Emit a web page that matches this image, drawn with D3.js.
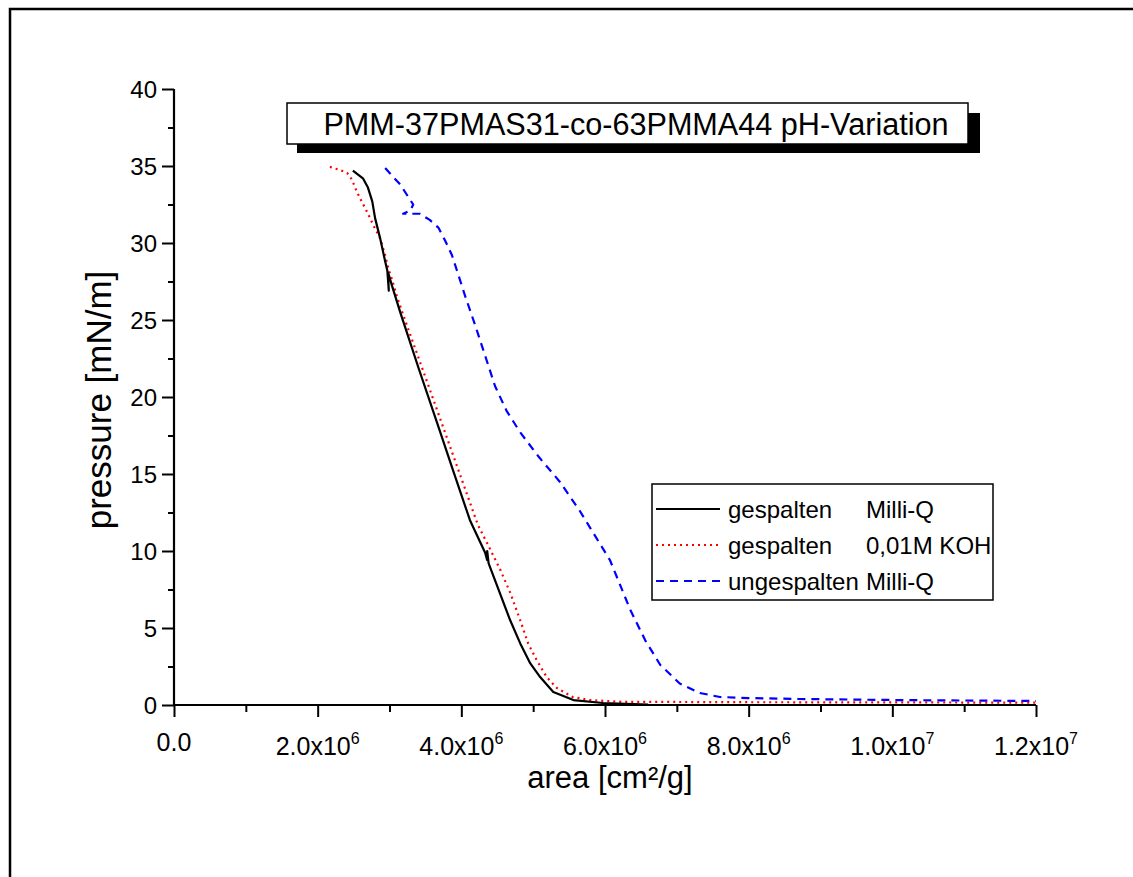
<!DOCTYPE html>
<html>
<head>
<meta charset="utf-8">
<script src="https://cdn.jsdelivr.net/npm/d3@7"></script>
<style>
  html, body { margin: 0; padding: 0; background: #fff; }
  svg { display: block; font-family: "Liberation Sans", Arial, sans-serif; }
</style>
</head>
<body>
<svg id="chart" width="1133" height="877"></svg>
<script>
// Isotherm: surface pressure vs. area per gram

// gespalten, Milli-Q (solid black)
const blackArea = [2.49e6, 2.63e6, 2.70e6, 2.76e6, 2.80e6, 2.87e6, 2.94e6, 2.97e6, 2.99e6, 2.98e6,
  3.03e6, 3.15e6, 3.41e6, 3.65e6, 3.88e6, 4.12e6, 4.33e6, 4.36e6, 4.36e6, 4.38e6,
  4.68e6, 4.82e6, 4.96e6, 5.10e6, 5.28e6, 5.56e6, 5.97e6, 6.6e6];
const blackPressure = [34.7, 34.2, 33.6, 32.7, 31.6, 30.3, 28.8, 28.2, 26.9, 28.1,
  27.3, 25.5, 21.8, 18.5, 15.3, 12.0, 9.9, 9.4, 10.0, 9.2,
  5.5, 4.0, 2.7, 1.8, 0.84, 0.32, 0.13, 0.03];

// gespalten, 0,01M KOH (red dotted)
const redArea = [2.17e6, 2.31e6, 2.41e6, 2.48e6, 2.52e6, 2.59e6, 2.69e6, 2.77e6, 2.87e6, 2.94e6,
  2.98e6, 3.03e6, 3.10e6, 3.17e6, 3.56e6, 3.91e6, 4.23e6, 4.36e6, 4.54e6, 4.68e6,
  4.82e6, 4.93e6, 5.05e6, 5.19e6, 5.33e6, 5.55e6, 5.79e6, 6.25e6, 6.77e6, 8.0e6,
  1.0e7, 1.2e7];
const redPressure = [34.94, 34.74, 34.55, 34.1, 33.6, 32.9, 32.0, 31.2, 30.3, 29.2,
  28.4, 27.7, 26.6, 25.6, 20.5, 15.9, 11.7, 10.5, 8.8, 7.3,
  5.5, 4.0, 2.9, 1.8, 1.1, 0.52, 0.32, 0.2, 0.2, 0.18,
  0.17, 0.15];

// ungespalten, Milli-Q (blue dashed)
const blueArea = [2.94e6, 3.03e6, 3.15e6, 3.26e6, 3.33e6, 3.29e6, 3.19e6, 3.34e6, 3.42e6, 3.56e6,
  3.68e6, 3.77e6, 3.87e6, 3.94e6, 4.05e6, 4.19e6, 4.33e6, 4.47e6, 4.63e6, 4.82e6,
  5.08e6, 5.37e6, 5.65e6, 5.86e6, 6.07e6, 6.21e6, 6.35e6, 6.56e6, 6.77e6, 7.04e6,
  7.32e6, 7.6e6, 8.0e6, 8.7e6, 1.01e7, 1.2e7];
const bluePressure = [34.87, 34.4, 33.8, 33.0, 32.5, 32.1, 31.9, 31.9, 31.9, 31.5,
  31.0, 30.2, 29.2, 28.2, 26.6, 24.7, 22.7, 20.7, 19.1, 17.7,
  16.1, 14.5, 12.6, 11.0, 9.4, 7.8, 6.2, 4.2, 2.6, 1.4,
  0.78, 0.52, 0.45, 0.39, 0.32, 0.26];

// Axis ticks and labels
const xMajorTicks = [0, 2e6, 4e6, 6e6, 8e6, 1e7, 1.2e7];
const xMinorTicks = [1e6, 3e6, 5e6, 7e6, 9e6, 1.1e7];
const xTickMantissa = ["0.0", "2.0x10", "4.0x10", "6.0x10", "8.0x10", "1.0x10", "1.2x10"];
const xTickExponent = ["", "6", "6", "6", "6", "7", "7"];
const yMajorTicks = [0, 5, 10, 15, 20, 25, 30, 35, 40];
const yMinorTicks = [2.5, 7.5, 12.5, 17.5, 22.5, 27.5, 32.5, 37.5];

const seriesLabels = ["gespalten", "gespalten", "ungespalten"];
const seriesMedium = ["Milli-Q", "0,01M KOH", "Milli-Q"];
const seriesColors = ["#000000", "#ff0000", "#0000ff"];
const seriesDash = [null, "2,4", "8,6"];

const chartTitle = "PMM-37PMAS31-co-63PMMA44 pH-Variation";
const xTitle = "area [cm²/g]";
const yTitle = "pressure [mN/m]";

const svg = d3.select("#chart");

const x = d3.scaleLinear().domain([0, 1.2e7]).range([174, 1036]);
const y = d3.scaleLinear().domain([0, 40]).range([705, 89]);

// Outer frame (left and top edges)
svg.append("path")
  .attr("d", "M10,877 L10,9 L1133,9")
  .attr("fill", "none").attr("stroke", "#000").attr("stroke-width", 2.5);

// Axes
const xAxisG = svg.append("g").attr("transform", `translate(0,${y(0)})`);
xAxisG.call(d3.axisBottom(x).tickValues(xMajorTicks).tickSize(12).tickFormat(""));
xAxisG.append("g").call(d3.axisBottom(x).tickValues(xMinorTicks).tickSize(7).tickFormat(""));
xAxisG.selectAll(".tick line").attr("stroke-width", 2);

const yAxisG = svg.append("g").attr("transform", `translate(${x(0)},0)`);
yAxisG.call(d3.axisLeft(y).tickValues(yMajorTicks).tickSize(12).tickFormat(""));
yAxisG.append("g").call(d3.axisLeft(y).tickValues(yMinorTicks).tickSize(6).tickFormat(""));
yAxisG.selectAll(".tick line").attr("stroke-width", 2);

// Plain axis lines without end caps
svg.selectAll(".domain").remove();
svg.append("path")
  .attr("d", `M${x(0)},${y(40)}V${y(0)}H${x(1.2e7)}`)
  .attr("fill", "none").attr("stroke", "#000").attr("stroke-width", 2.2);

// Y tick labels
svg.append("g").selectAll("text").data(yMajorTicks).join("text")
  .attr("x", 157).attr("y", d => y(d)).attr("dy", "0.36em")
  .attr("text-anchor", "end").attr("font-size", 24).text(d => d);

// X tick labels with superscript exponent
const xl = svg.append("g").selectAll("text").data(xMajorTicks).join("text")
  .attr("x", d => x(d)).attr("y", (d, i) => xTickExponent[i] ? 755 : 751)
  .attr("text-anchor", "middle").attr("font-size", 25);
xl.append("tspan").text((d, i) => xTickMantissa[i]);
xl.append("tspan").attr("font-size", 16).attr("dy", -11).text((d, i) => xTickExponent[i]);

// Axis titles
svg.append("text").attr("x", 610).attr("y", 788).attr("text-anchor", "middle")
  .attr("font-size", 31).text(xTitle);
svg.append("text").attr("transform", "translate(111,400) rotate(-90)")
  .attr("text-anchor", "middle").attr("font-size", 35).text(yTitle);

// Curves
const line = d3.line().x(d => x(d[0])).y(d => y(d[1]));
const series = [
  d3.zip(blackArea, blackPressure),
  d3.zip(redArea, redPressure),
  d3.zip(blueArea, bluePressure)
];
// Drawing order: blue, red, black on top
[2, 1, 0].forEach(i => {
  svg.append("path").datum(series[i])
    .attr("d", line)
    .attr("fill", "none")
    .attr("stroke", seriesColors[i])
    .attr("stroke-width", 2.2)
    .attr("stroke-linejoin", "round")
    .attr("stroke-dasharray", seriesDash[i]);
});

// Title box with drop shadow
svg.append("rect").attr("x", 297).attr("y", 113).attr("width", 683).attr("height", 40).attr("fill", "#000");
svg.append("rect").attr("x", 287).attr("y", 103).attr("width", 681).attr("height", 41)
  .attr("fill", "#fff").attr("stroke", "#000").attr("stroke-width", 1.5);
svg.append("text").attr("x", 636).attr("y", 135).attr("text-anchor", "middle")
  .attr("font-size", 30.6).text(chartTitle);

// Legend
const lg = svg.append("g");
lg.append("rect").attr("x", 652).attr("y", 484).attr("width", 341).attr("height", 116)
  .attr("fill", "#fff").attr("stroke", "#000").attr("stroke-width", 1.5);
const rowY = [509, 545, 581];
seriesLabels.forEach((lab, i) => {
  lg.append("line").attr("x1", 656).attr("x2", 720).attr("y1", rowY[i]).attr("y2", rowY[i])
    .attr("stroke", seriesColors[i]).attr("stroke-width", 2)
    .attr("stroke-dasharray", seriesDash[i]);
  lg.append("text").attr("x", 728).attr("y", rowY[i]).attr("dy", "0.36em")
    .attr("font-size", 24).text(lab);
  lg.append("text").attr("x", 866).attr("y", rowY[i]).attr("dy", "0.36em")
    .attr("font-size", 24).text(seriesMedium[i]);
});
</script>
</body>
</html>
